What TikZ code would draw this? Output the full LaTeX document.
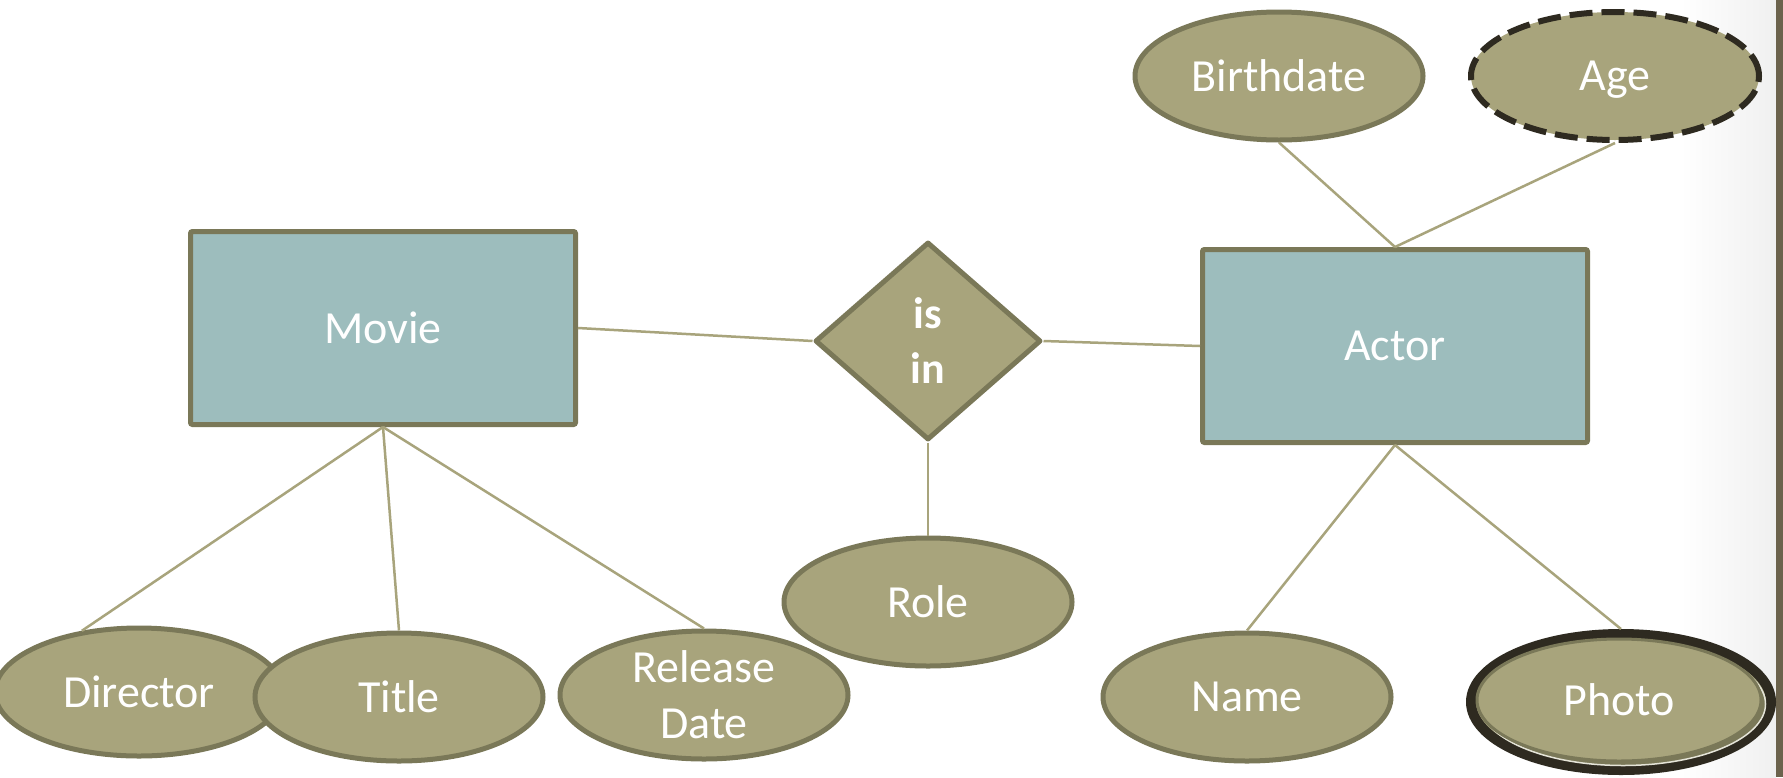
\documentclass[tikz,border=0pt]{standalone}
\usepackage{fontspec}
\setmainfont{Carlito}
\usetikzlibrary{shapes.geometric}
\definecolor{entityfill}{HTML}{9DBDBD}
\definecolor{attrfill}{HTML}{A8A47C}
\definecolor{olivedraw}{HTML}{7A7858}
\definecolor{linkline}{HTML}{A8A47C}
\definecolor{darkring}{HTML}{2E2A20}
\definecolor{sidebar}{HTML}{6B624C}
\tikzset{
  every node/.style={font=\fontsize{46}{56}\selectfont, text=white, inner sep=0pt},
  entity/.style={rectangle, rounded corners=2pt, fill=entityfill, draw=olivedraw, line width=5pt,
    minimum width=385pt, minimum height=193pt},
  attr/.style={ellipse, fill=attrfill, draw=olivedraw, line width=5pt,
    minimum width=288pt, minimum height=128pt, align=center},
  relation/.style={diamond, fill=attrfill, draw=olivedraw, line width=5pt, line join=round,
    minimum width=226pt, minimum height=198pt, align=center,
    font=\fontsize{44}{55}\selectfont\bfseries},
  link/.style={draw=linkline, line width=2.5pt},
}
\begin{document}
\begin{tikzpicture}[x=1pt, y=-1pt]
  % canvas and right-hand frame
  \useasboundingbox (0,0) rectangle (1783,777);
  \fill[white] (0,0) rectangle (1783,777);
  \shade[left color=white, right color=black!6, draw=none] (1680,0) rectangle (1776,777);
  \fill[sidebar] (1776,0) rectangle (1783,777);

  % entities and relationship
  \node[entity] (movie) at (383,328) {Movie};
  \node[entity] (actor) at (1395,346) {Actor};
  \node[relation] (isin) at (928,341) {is\\in};

  % attributes of Actor
  \node[attr] (birth) at (1279,76) {Birthdate};
  \node[attr, draw=darkring, line width=6pt, dash pattern=on 23pt off 9pt, text depth=0pt] (age) at (1615,76) {Age};
  \node[attr] (name) at (1247,697) {Name};
  % multivalued attribute: heavy outer ring, inner ellipse with a soft shadow
  \node[ellipse, draw=darkring, line width=10pt, fill=attrfill,
        minimum width=300pt, minimum height=136pt] (photo) at (1621,702) {};
  \node[ellipse, fill=olivedraw, draw=white!70!attrfill, line width=1.5pt,
        minimum width=285pt, minimum height=123pt] (photoshadow) at (1623,704) {};
  \node[attr, line width=3pt, minimum width=284pt, minimum height=122pt] (photoin) at (1619,700) {Photo};

  % attributes of Movie and relationship
  \node[attr] (director) at (139,692) {Director};
  \node[attr] (title) at (399,697) {Title};
  \node[attr] (release) at (704,695) {Release\\Date};
  \node[attr] (role) at (928,602) {Role};

  % connectors
  \draw[link] (movie.south) -- (director.133);
  \draw[link] (movie.south) -- (title.north);
  \draw[link] (movie.south) -- (release.north);
  \draw[link] (movie.east) -- (isin.west);
  \draw[link] (isin.east) -- (actor.west);
  \draw[link] (isin.south) -- (role.north);
  \draw[link] (actor.north) -- (birth.south);
  \draw[link] (actor.north) -- (age.south);
  \draw[link] (actor.south) -- (name.north);
  \draw[link] (actor.south) -- (photo.north);
\end{tikzpicture}
\end{document}
